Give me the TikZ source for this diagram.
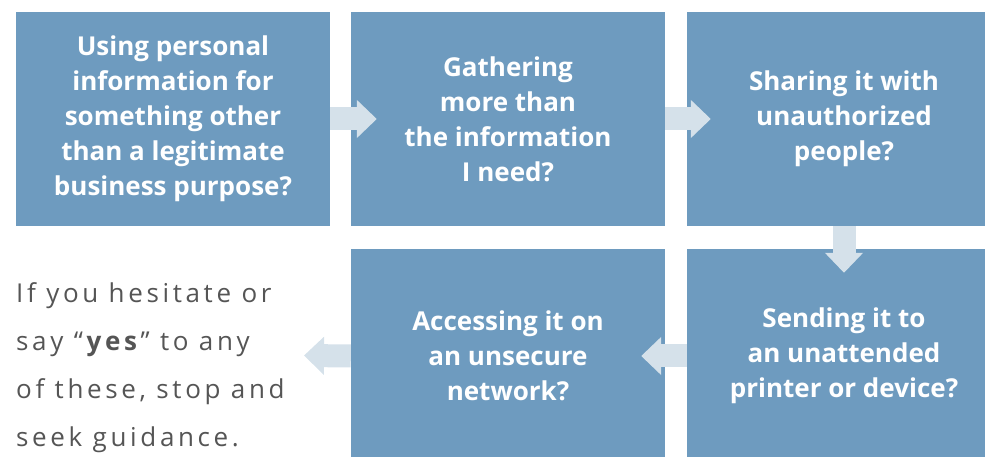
\documentclass[tikz,border=0pt]{standalone}
\usepackage{fontspec}
\setmainfont{Open Sans}
\newfontfamily\spacedfont[LetterSpace=14]{Open Sans}
\usetikzlibrary{arrows.meta}
\definecolor{boxblue}{HTML}{6E9BBF}
\definecolor{arrowblue}{HTML}{D5E1EA}
\definecolor{notegray}{HTML}{555555}
\tikzset{
  qbox/.style={fill=boxblue, draw=none, minimum width=314pt, minimum height=214pt,
    inner sep=0pt, text=white, align=center,
    font=\bfseries\fontsize{26}{35}\selectfont},
  fatarrow/.style={draw=arrowblue, line width=23pt,
    -{Triangle[width=37pt,length=20pt]}},
}
\begin{document}
\begin{tikzpicture}[x=1pt,y=1pt]
  \useasboundingbox (0,0) rectangle (985,457);
  \clip (0,0) rectangle (985,457);
  % question boxes
  \node[qbox] (b1) at (173,338) {Using personal\\information for\\something other\\than a legitimate\\business purpose?};
  \node[qbox] (b2) at (508,338) {Gathering\\more than\\the information\\I need?};
  \node[qbox] (b3) at (844,338) {Sharing it with\\unauthorized\\people?};
  \node[qbox] (b4) at (508,101) {Accessing it on\\an unsecure\\network?};
  \node[qbox] (b5) at (844,101) {Sending it to\\an unattended\\printer or device?};
  % closing note (anchored at the baseline of its last line)
  \node[anchor=base west, inner sep=0pt, align=left, text=notegray,
        font=\spacedfont\fontsize{26}{48}\selectfont] (note) at (16,10)
    {If you hesitate or\\say “\textbf{yes}” to any\\of these, stop and\\seek guidance.};
  \coordinate (noteend) at (304,101.5);
  % flow arrows
  \draw[fatarrow] (b1.east) -- ([xshift=26pt]b2.west);
  \draw[fatarrow] (b2.east) -- ([xshift=24pt]b3.west);
  \draw[fatarrow] (b3.south) -- ([yshift=-24pt]b5.north);
  \draw[fatarrow] (b5.west) -- ([xshift=-24pt]b4.east);
  \draw[fatarrow] (b4.west) -- (noteend);
\end{tikzpicture}
\end{document}
